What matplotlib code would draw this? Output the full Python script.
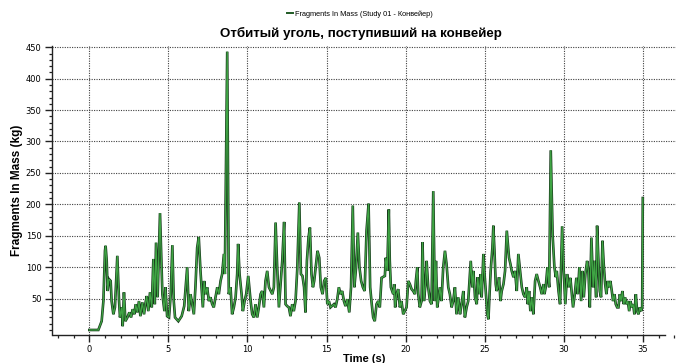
import matplotlib
matplotlib.use("Agg")
import matplotlib.pyplot as plt
import matplotlib.patheffects as pe
from matplotlib.ticker import MultipleLocator, FixedLocator

# ---- data ----
time_s = [
    0.0, 0.57, 0.78, 0.89, 0.99, 1.03, 1.10, 1.16, 1.24, 1.35, 1.41, 1.52, 1.62, 1.77, 1.88, 1.94,
    2.05, 2.11, 2.19, 2.28, 2.41, 2.53, 2.64, 2.74, 2.85, 2.93, 3.04, 3.14, 3.23, 3.35, 3.46, 3.54,
    3.63, 3.73, 3.84, 3.95, 4.05, 4.14, 4.22, 4.32, 4.47, 4.62, 4.75, 4.81, 4.92, 5.04, 5.15, 5.25,
    5.34, 5.42, 5.63, 5.84, 6.00, 6.19, 6.29, 6.40, 6.61, 6.71, 6.82, 6.92, 7.03, 7.18, 7.26, 7.35,
    7.45, 7.56, 7.66, 7.77, 7.87, 7.98, 8.09, 8.19, 8.30, 8.40, 8.51, 8.57, 8.72, 8.82, 8.93, 9.03,
    9.14, 9.25, 9.35, 9.41, 9.50, 9.63, 9.71, 9.82, 9.92, 10.05, 10.20, 10.30, 10.41, 10.51, 10.62,
    10.72, 10.83, 10.93, 11.04, 11.14, 11.25, 11.36, 11.57, 11.67, 11.78, 11.88, 11.99, 12.20, 12.32,
    12.41, 12.51, 12.62, 12.72, 12.83, 12.93, 13.04, 13.15, 13.28, 13.38, 13.48, 13.58, 13.67, 13.76,
    13.86, 13.95, 14.05, 14.14, 14.22, 14.43, 14.54, 14.64, 14.75, 14.85, 14.96, 15.05, 15.15, 15.25,
    15.47, 15.57, 15.68, 15.78, 15.89, 15.99, 16.10, 16.20, 16.31, 16.44, 16.55, 16.66, 16.76, 16.87,
    16.98, 17.08, 17.19, 17.30, 17.41, 17.53, 17.66, 17.76, 17.86, 17.95, 18.05, 18.16, 18.27, 18.37,
    18.48, 18.69, 18.75, 18.84, 18.94, 19.00, 19.07, 19.15, 19.22, 19.28, 19.34, 19.43, 19.53, 19.64,
    19.74, 19.85, 19.95, 20.06, 20.17, 20.27, 20.38, 20.48, 20.59, 20.65, 20.74, 20.80, 20.90, 21.01,
    21.07, 21.16, 21.26, 21.33, 21.43, 21.54, 21.64, 21.75, 21.85, 21.92, 22.00, 22.06, 22.17, 22.27,
    22.38, 22.49, 22.59, 22.70, 22.80, 22.91, 23.01, 23.12, 23.22, 23.33, 23.44, 23.54, 23.65, 23.75,
    23.86, 23.96, 24.12, 24.22, 24.29, 24.39, 24.50, 24.56, 24.67, 24.75, 24.81, 24.92, 24.98, 25.07,
    25.17, 25.24, 25.30, 25.38, 25.49, 25.55, 25.62, 25.70, 25.76, 25.83, 25.91, 26.00, 26.08, 26.19,
    26.29, 26.40, 26.54, 26.63, 26.71, 26.82, 26.92, 27.03, 27.13, 27.24, 27.35, 27.45, 27.56, 27.66,
    27.73, 27.81, 27.89, 27.98, 28.08, 28.19, 28.29, 28.40, 28.51, 28.61, 28.72, 28.78, 28.86, 28.97,
    29.08, 29.18, 29.30, 29.41, 29.50, 29.56, 29.67, 29.77, 29.90, 30.00, 30.10, 30.21, 30.32, 30.42,
    30.53, 30.59, 30.70, 30.80, 30.89, 30.99, 31.10, 31.18, 31.27, 31.37, 31.48, 31.56, 31.65, 31.75,
    31.86, 31.94, 32.05, 32.11, 32.22, 32.28, 32.36, 32.45, 32.53, 32.62, 32.70, 32.79, 32.87, 32.95,
    33.04, 33.12, 33.21, 33.29, 33.38, 33.46, 33.55, 33.63, 33.71, 33.80, 33.88, 33.97, 34.05, 34.14,
    34.22, 34.30, 34.39, 34.47, 34.56, 34.64, 34.73, 34.81, 34.90, 34.96, 35.00,
]
mass_kg = [
    0, 0, 14, 46, 126, 134, 110, 62, 81, 78, 46, 25, 36, 118, 46, 20,
    36, 6, 60, 14, 20, 28, 20, 33, 25, 41, 28, 46, 22, 44, 25, 41,
    54, 30, 60, 36, 113, 41, 139, 52, 186, 57, 30, 68, 22, 20, 57, 135,
    46, 20, 14, 22, 38, 100, 30, 57, 25, 68, 131, 148, 94, 36, 78, 57,
    68, 46, 52, 41, 36, 52, 68, 57, 78, 89, 121, 89, 443, 57, 68, 25,
    36, 52, 89, 137, 89, 57, 30, 46, 57, 86, 46, 25, 20, 41, 20,
    36, 57, 62, 36, 78, 94, 68, 57, 68, 171, 100, 36, 110, 172,
    41, 38, 36, 22, 41, 30, 46, 97, 203, 89, 86, 68, 28, 110,
    147, 163, 89, 68, 78, 126, 115, 68, 57, 78, 83, 41, 46, 36,
    41, 36, 49, 68, 57, 62, 46, 38, 49, 28, 68, 198, 68, 100,
    155, 100, 78, 68, 62, 158, 201, 68, 41, 20, 14, 41, 46, 36,
    83, 86, 115, 94, 192, 110, 68, 62, 57, 73, 36, 57, 65, 36,
    46, 25, 30, 36, 78, 73, 65, 62, 57, 78, 100, 57, 36, 46,
    140, 46, 73, 110, 68, 46, 41, 221, 46, 110, 36, 46, 68, 46,
    100, 126, 105, 68, 57, 36, 46, 68, 25, 52, 25, 41, 62, 20,
    36, 46, 110, 68, 94, 52, 41, 84, 57, 89, 52, 121, 94, 62,
    25, 17, 52, 94, 131, 166, 126, 73, 62, 68, 84, 46, 62, 73,
    94, 158, 115, 105, 94, 84, 94, 62, 121, 94, 68, 57, 52, 68,
    41, 62, 30, 52, 25, 78, 89, 78, 68, 57, 73, 57, 68, 100,
    68, 286, 150, 100, 84, 94, 62, 41, 165, 94, 41, 89, 68, 83,
    52, 36, 57, 83, 57, 100, 46, 94, 52, 89, 110, 94, 36, 147,
    68, 110, 52, 166, 94, 62, 52, 142, 105, 73, 57, 78, 68, 78,
    62, 46, 57, 41, 36, 36, 57, 46, 62, 41, 52, 41, 46, 30,
    46, 36, 41, 25, 57, 30, 25, 36, 30, 36, 210,
]
y_ticks = [50, 100, 150, 200, 250, 300, 350, 400, 450]
x_ticks = [0, 5, 10, 15, 20, 25, 30, 35]

title_text = "Отбитый уголь, поступивший на конвейер"
legend_text = "Fragments In Mass (Study 01 - Конвейер)"
x_label = "Time (s)"
y_label = "Fragments In Mass (kg)"

# ---- figure ----
W, H = 683, 363
fig = plt.figure(figsize=(W / 100, H / 100), dpi=100)
ax = fig.add_axes([52 / W, 28 / H, (676 - 52) / W, (335 - 46) / H])

font = ["Liberation Sans", "DejaVu Sans"]

line, = ax.plot(time_s, mass_kg, color="#3fa544", lw=0.9, solid_joinstyle="miter",
                label=legend_text, zorder=3)
line.set_path_effects([pe.Stroke(linewidth=1.9, foreground="#183a1c"), pe.Normal()])

ax.set_xlim(-2.36, 37.1)
ax.set_ylim(-8, 452)

ax.xaxis.set_major_locator(FixedLocator(x_ticks))
ax.xaxis.set_minor_locator(MultipleLocator(1))
ax.yaxis.set_major_locator(FixedLocator(y_ticks))
ax.yaxis.set_minor_locator(MultipleLocator(10))

ax.grid(True, which="major", color="#404040", linestyle=(0, (1, 1.2)), linewidth=0.8)

for s in ("top", "right"):
    ax.spines[s].set_visible(False)
ax.spines["bottom"].set_bounds(-2.3, 36.4)
for s in ("left", "bottom"):
    ax.spines[s].set_color("#222222")
    ax.spines[s].set_linewidth(1.0)

ax.tick_params(which="major", direction="out", length=5, width=1.0, color="#222222",
               labelsize=6, pad=2.5)
ax.tick_params(which="minor", direction="out", length=2.5, width=0.9, color="#222222")
for lab in ax.get_xticklabels() + ax.get_yticklabels():
    lab.set_family("DejaVu Sans")

ax.set_xlabel(x_label, fontsize=8, fontweight="bold", family=font, labelpad=0)
ax.set_ylabel(y_label, fontsize=8.5, fontweight="bold", family=font, labelpad=2)

fig.text(0.528, 0.907, title_text, ha="center", va="center", fontsize=9.6,
         fontweight="bold", family=font)

leg = fig.legend(handles=[line], labels=[legend_text], loc="center",
                 bbox_to_anchor=(0.527, 0.962), frameon=False,
                 prop={"family": font, "size": 5.3}, handlelength=0.8,
                 handletextpad=0.3, borderpad=0)
for h in leg.legend_handles:
    h.set_path_effects([])
    h.set_color("#1f5a24")
    h.set_linewidth(1.4)

fig.savefig("out.png", dpi=100)
